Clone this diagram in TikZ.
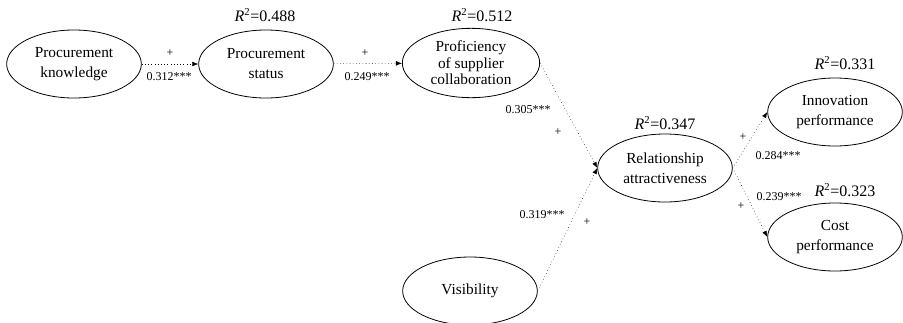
\documentclass[tikz,border=0pt]{standalone}
\usepackage{fontspec}
\setmainfont{Liberation Serif}
\usetikzlibrary{shapes.geometric,arrows.meta}

\begin{document}
\begin{tikzpicture}[x=0.75pt,y=-0.75pt,
    latent/.style={draw,ellipse,line width=0.6pt,minimum width=101pt,minimum height=51pt,inner sep=0pt,align=center,font=\fontsize{11.5}{15}\selectfont},
    effect/.style={dotted,thin,-{Latex[length=4.5pt,width=3.5pt]}},
    coef/.style={font=\fontsize{9}{10}\selectfont},
    rsq/.style={font=\fontsize{12}{13}\selectfont}]
    \useasboundingbox (0,0) rectangle (903,322);
    % constructs
    \node[latent] (know) at (74,64) {Procurement\\knowledge};
    \node[latent] (status) at (266,64) {Procurement\\status};
    \node[latent,minimum width=103pt,minimum height=52pt,font=\fontsize{11.5}{12.5}\selectfont] (prof) at (471,63) {Proficiency\\of supplier\\collaboration};
    \node[latent] (rel) at (665,168) {Relationship\\attractiveness};
    \node[latent] (vis) at (470,291) {Visibility};
    \node[latent] (innov) at (835,112) {Innovation\\performance};
    \node[latent] (cost) at (835,237) {Cost\\performance};
    % explained variance
    \node[rsq] (r2status) at (265,15) {\textit{R}\textsuperscript{2}=0.488};
    \node[rsq] (r2prof) at (482,15) {\textit{R}\textsuperscript{2}=0.512};
    \node[rsq] (r2rel) at (665,123) {\textit{R}\textsuperscript{2}=0.347};
    \node[rsq] (r2innov) at (845,63) {\textit{R}\textsuperscript{2}=0.331};
    \node[rsq] (r2cost) at (845,190) {\textit{R}\textsuperscript{2}=0.323};
    % paths
    \draw[effect] (know) -- (status);
    \draw[effect] (status) -- (prof);
    \draw[effect] (prof.east) -- (rel.west);
    \draw[effect] (vis.east) -- (rel.west);
    \draw[effect] (rel.east) -- (innov.west);
    \draw[effect] (rel.east) -- (cost.west);
    % path coefficients
    \node[coef] (s1) at (170,53) {+};
    \node[coef] (c1) at (169,77) {0.312***};
    \node[coef] (s2) at (365,53) {+};
    \node[coef] (c2) at (367,77) {0.249***};
    \node[coef] (c3) at (528,110) {0.305***};
    \node[coef] (s3) at (558,132) {+};
    \node[coef] (c4) at (542,215) {0.319***};
    \node[coef] (s4) at (587,222) {+};
    \node[coef] (s5) at (743,137) {+};
    \node[coef] (c5) at (778,156) {0.284***};
    \node[coef] (s6) at (741,206) {+};
    \node[coef] (c6) at (779,197) {0.239***};
\end{tikzpicture}
\end{document}
